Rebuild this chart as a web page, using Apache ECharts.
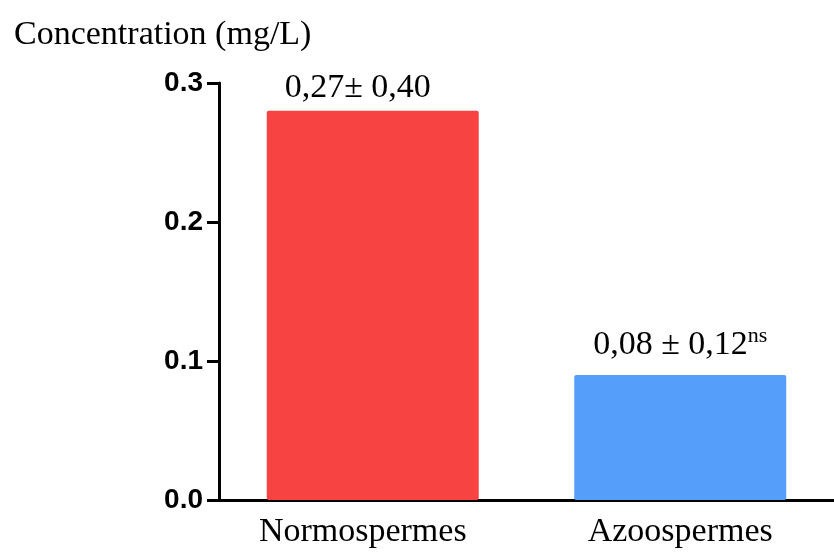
<!DOCTYPE html>
<html><head><meta charset="utf-8">
<script src="https://cdn.jsdelivr.net/npm/echarts@6/dist/echarts.min.js"></script>
<style>html,body{margin:0;padding:0;background:#fff}#c{width:834px;height:554px}</style>
</head><body><div id="c"></div>
<script>
const categories = ['Normospermes', 'Azoospermes'];
const values = [0.28, 0.09];
const barLabels = ['0,27± 0,40', '0,08 ± 0,12'];
const barSuperscripts = ['', 'ns'];
const colors = ['#F84343', '#559EFA'];
const yTicks = [0, 0.1, 0.2, 0.3];

const chart = echarts.init(document.getElementById('c'));
chart.setOption({
  animation: false,
  title: {
    text: 'Concentration (mg/L)', left: 9, top: 13,
    textStyle: { fontFamily: 'Liberation Serif', fontSize: 34, fontWeight: 'normal', color: '#000' }
  },
  grid: { left: 219, right: -5, top: 83, bottom: 54, containLabel: false },
  xAxis: {
    type: 'category', data: categories,
    axisLine: { lineStyle: { color: '#000', width: 3 } },
    axisTick: { alignWithLabel: true, length: 12, lineStyle: { color: '#000', width: 3 } },
    axisLabel: {
      margin: 15,
      formatter: (v, i) => i === 0 ? '{a|' + v + '}' : '{b|' + v + '}',
      rich: {
        a: { fontFamily: 'Liberation Serif', fontSize: 34, color: '#000', padding: [0, 20, 0, 0] },
        b: { fontFamily: 'Liberation Serif', fontSize: 34, color: '#000' }
      }
    }
  },
  yAxis: {
    type: 'value', min: 0, max: 0.3, interval: 0.1,
    splitLine: { show: false },
    axisLine: { show: true, lineStyle: { color: '#000', width: 3 } },
    axisTick: { show: true, length: 12, lineStyle: { color: '#000', width: 3 } },
    axisLabel: { fontFamily: 'Liberation Sans', fontWeight: 'bold', fontSize: 28, color: '#000', margin: 16,
      formatter: v => yTicks.includes(Math.round(v*10)/10) ? v.toFixed(1) : '' }
  },
  series: [{
    type: 'bar', barWidth: 212,
    data: values.map((v, i) => ({ value: v, itemStyle: { color: colors[i], borderRadius: 2 },
      label: { offset: i === 0 ? [-15, 0] : [0, -4] } })),
    label: {
      show: true, position: 'top', distance: 6,
      formatter: p => barSuperscripts[p.dataIndex] ? '{m|' + barLabels[p.dataIndex] + '}{s|' + barSuperscripts[p.dataIndex] + '}' : '{m|' + barLabels[p.dataIndex] + '}',
      rich: {
        m: { fontFamily: 'Liberation Serif', fontSize: 34, color: '#000' },
        s: { fontFamily: 'Liberation Serif', fontSize: 22, color: '#000', verticalAlign: 'top', padding: [0, 0, 18, 0] }
      }
    }
  }]
});
</script></body></html>
